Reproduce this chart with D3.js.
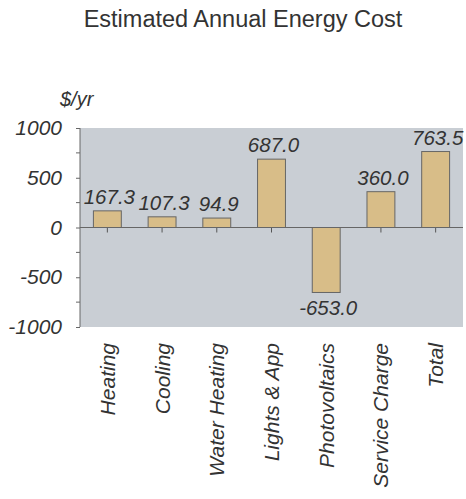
<!DOCTYPE html>
<html>
<head>
<meta charset="utf-8">
<script src="https://cdn.jsdelivr.net/npm/d3@7"></script>
<style>
  body { margin: 0; background: #fff; }
  text { font-family: "Liberation Sans", Arial, sans-serif; fill: #333; }
</style>
</head>
<body>
<svg id="chart"></svg>
<script>
const categories = ["Heating", "Cooling", "Water Heating", "Lights & App", "Photovoltaics", "Service Charge", "Total"]
const values = [167.3, 107.3, 94.9, 687.0, -653.0, 360.0, 763.5]
const yTicks = [1000, 500, 0, -500, -1000]
const yMinor = [750, 250, -250, -750]

const width = 466, height = 499
const plot = {left: 80, right: 463, top: 128, bottom: 327}

const svg = d3.select("#chart").attr("width", width).attr("height", height)

const x = d3.scaleBand().domain(categories).range([plot.left, plot.right]).paddingInner(0.49).paddingOuter(0.245)
const xc = d3.scalePoint().domain(categories).range([plot.left, plot.right]).padding(0.5)
const y = d3.scaleLinear().domain([-1000, 1000]).range([plot.bottom, plot.top])

// fond de la zone de tracé
svg.append("rect")
    .attr("x", plot.left).attr("y", plot.top)
    .attr("width", plot.right - plot.left).attr("height", plot.bottom - plot.top)
    .attr("fill", "#c9ced4")

// titre
svg.append("text")
    .attr("x", 243).attr("y", 27)
    .attr("text-anchor", "middle")
    .style("font-size", "23.5px")
    .text("Estimated Annual Energy Cost")

svg.append("text")
    .attr("x", 60).attr("y", 106)
    .style("font-size", "20px").style("font-style", "italic")
    .text("$/yr")

// axe y
const yAxis = svg.append("g")
    .attr("transform", `translate(${plot.left},0)`)
    .call(d3.axisLeft(y).tickValues(yTicks).tickFormat(d => String(d)).tickSize(4).tickPadding(14))
yAxis.select(".domain").attr("stroke", "#666").attr("d", `M0,${plot.top}V${plot.bottom}`)
yAxis.selectAll(".tick line").attr("stroke", "#666")
yAxis.selectAll(".tick text")
    .style("font-size", "21px").style("font-style", "italic")
    .attr("fill", "#333")

svg.append("g").selectAll("line")
    .data(yMinor).join("line")
    .attr("x1", plot.left - 4).attr("x2", plot.left)
    .attr("y1", d => y(d)).attr("y2", d => y(d))
    .attr("stroke", "#666")

// ticks des catégories
svg.append("g").selectAll("line")
    .data(categories).join("line")
    .attr("x1", d => xc(d)).attr("x2", d => xc(d))
    .attr("y1", y(0)).attr("y2", y(0) + 5)
    .attr("stroke", "#555")

// barres
svg.append("g").selectAll("rect")
    .data(values).join("rect")
    .attr("x", (d, i) => x(categories[i]))
    .attr("width", x.bandwidth())
    .attr("y", d => y(Math.max(0, d)))
    .attr("height", d => Math.abs(y(d) - y(0)))
    .attr("fill", "#d8bd88")
    .attr("stroke", "#666")
    .attr("stroke-width", 1)

// ligne du zéro
svg.append("line")
    .attr("x1", plot.left).attr("x2", plot.right)
    .attr("y1", y(0)).attr("y2", y(0))
    .attr("stroke", "#666")

// valeurs
svg.append("g").selectAll("text")
    .data(values).join("text")
    .attr("x", (d, i) => xc(categories[i]) + 2)
    .attr("y", d => d >= 0 ? y(d) - 7 : y(d) + 23)
    .attr("text-anchor", "middle")
    .style("font-size", "20.5px").style("font-style", "italic")
    .text(d => d.toFixed(1))

// étiquettes des catégories
svg.append("g").selectAll("text")
    .data(categories).join("text")
    .attr("transform", d => `translate(${xc(d) + 7.5},343) rotate(-90)`)
    .attr("text-anchor", "end")
    .style("font-size", "21px").style("font-style", "italic")
    .text(d => d)
</script>
</body>
</html>
